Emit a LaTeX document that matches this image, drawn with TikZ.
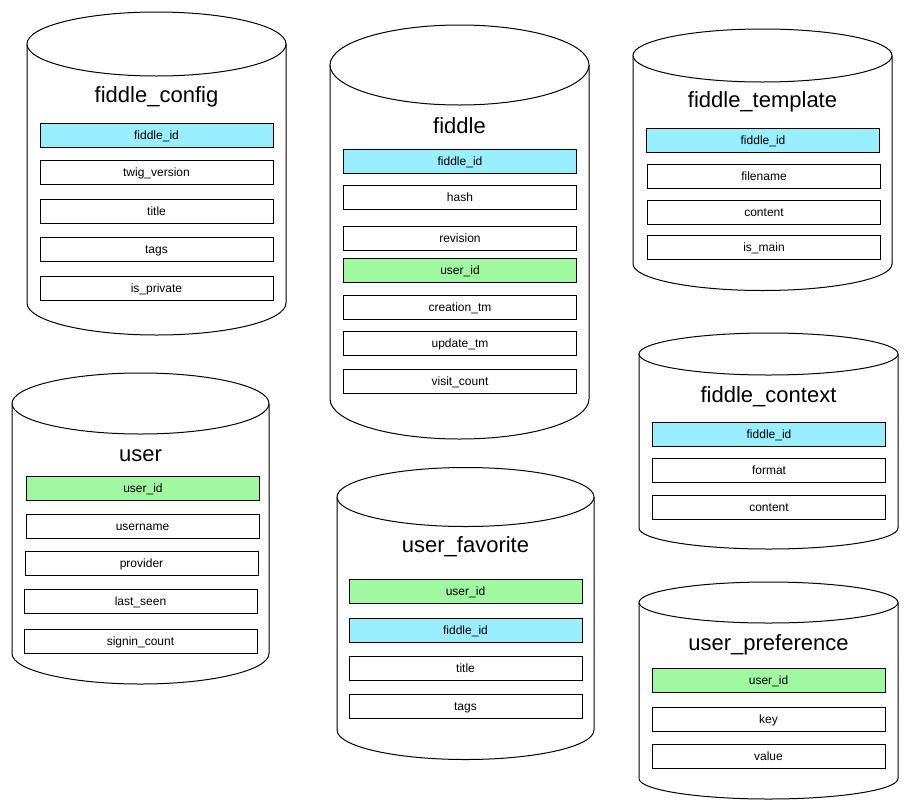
\documentclass[tikz,border=0pt]{standalone}
\usepackage{fontspec}
\setmainfont{Liberation Sans}
\usepackage{tikz}
\usetikzlibrary{positioning}
\definecolor{pkcol}{HTML}{99EEFF}
\definecolor{fkcol}{HTML}{A0F8A0}
\tikzset{
  cylline/.style={draw=black, line width=1pt, fill=white},
  field/.style={draw=black, line width=0.9pt, fill=white, minimum width=233pt, minimum height=24pt, inner sep=0pt, text height=9.5pt, text depth=0pt, font=\fontsize{12}{14}\selectfont},
  pk/.style={field, fill=pkcol},
  fk/.style={field, fill=fkcol},
  tabletitle/.style={anchor=base, inner sep=0pt, font=\fontsize{22}{26}\selectfont}
}
% cylinder: centre x, x radius, top centre y, y radius, bottom centre y
\newcommand{\tablecyl}[5]{%
  \draw[cylline] ({#1-#2},#3) -- ({#1-#2},#5) arc[start angle=180, end angle=360, x radius=#2pt, y radius=#4pt] -- ({#1+#2},#3);
  \draw[cylline] (#1,#3) ellipse[x radius=#2pt, y radius=#4pt];}
\begin{document}
\begin{tikzpicture}[x=1pt, y=-1pt]
\useasboundingbox (0,0) rectangle (908,809);
\fill[white] (0,0) rectangle (908,809);

\tablecyl{156.5}{129.5}{44}{32}{303}
\node[tabletitle] (cfgtitle) at (156.5,102) {fiddle\_config};
\node[pk] (cfgid) at (156.5,135) {fiddle\_id};
\node[field] (cfgtwig) at (156.5,172) {twig\_version};
\node[field] (cfgtitle2) at (156.5,211) {title};
\node[field] (cfgtags) at (156.5,249) {tags};
\node[field] (cfgpriv) at (156.5,288) {is\_private};

\tablecyl{459.5}{129.5}{65}{40}{399}
\node[tabletitle] (fidtitle) at (459.5,133) {fiddle};
\node[pk] (fidid) at (460,161) {fiddle\_id};
\node[field] (fidhash) at (460,197) {hash};
\node[field] (fidrev) at (460,238) {revision};
\node[fk] (fiduser) at (460,270) {user\_id};
\node[field] (fidctm) at (460,307) {creation\_tm};
\node[field] (fidutm) at (460,343) {update\_tm};
\node[field] (fidvisit) at (460,381) {visit\_count};

\tablecyl{762.5}{129.5}{55.5}{26.5}{264}
\node[tabletitle] (tpltitle) at (762.5,107) {fiddle\_template};
\node[pk] (tplid) at (763,140) {fiddle\_id};
\node[field] (tplfile) at (764,176) {filename};
\node[field] (tplcontent) at (764,212) {content};
\node[field] (tplmain) at (764,247) {is\_main};

\tablecyl{140.5}{128.5}{403.5}{30.5}{653.5}
\node[tabletitle] (usrtitle) at (140.5,461) {user};
\node[fk] (usrid) at (143,488) {user\_id};
\node[field] (usrname) at (142.5,526) {username};
\node[field] (usrprov) at (141.5,563) {provider};
\node[field] (usrseen) at (140.5,601) {last\_seen};
\node[field] (usrcount) at (140.5,641) {signin\_count};

\tablecyl{465.5}{128.5}{497}{29.5}{730}
\node[tabletitle] (favtitle) at (465.5,552) {user\_favorite};
\node[fk] (favuser) at (465.5,591) {user\_id};
\node[pk] (favfid) at (465.5,630) {fiddle\_id};
\node[field] (favtitle2) at (465.5,668) {title};
\node[field] (favtags) at (465.5,706) {tags};

\tablecyl{768.5}{129.5}{354}{21}{528}
\node[tabletitle] (ctxtitle) at (768.5,402) {fiddle\_context};
\node[pk] (ctxid) at (769,434) {fiddle\_id};
\node[field] (ctxformat) at (769,470) {format};
\node[field] (ctxcontent) at (769,507) {content};

\tablecyl{768.5}{129.5}{602.5}{20.5}{778.5}
\node[tabletitle] (preftitle) at (768.5,650) {user\_preference};
\node[fk] (prefuser) at (768.5,680) {user\_id};
\node[field] (prefkey) at (768.5,719) {key};
\node[field] (prefval) at (768.5,756) {value};
\end{tikzpicture}
\end{document}
